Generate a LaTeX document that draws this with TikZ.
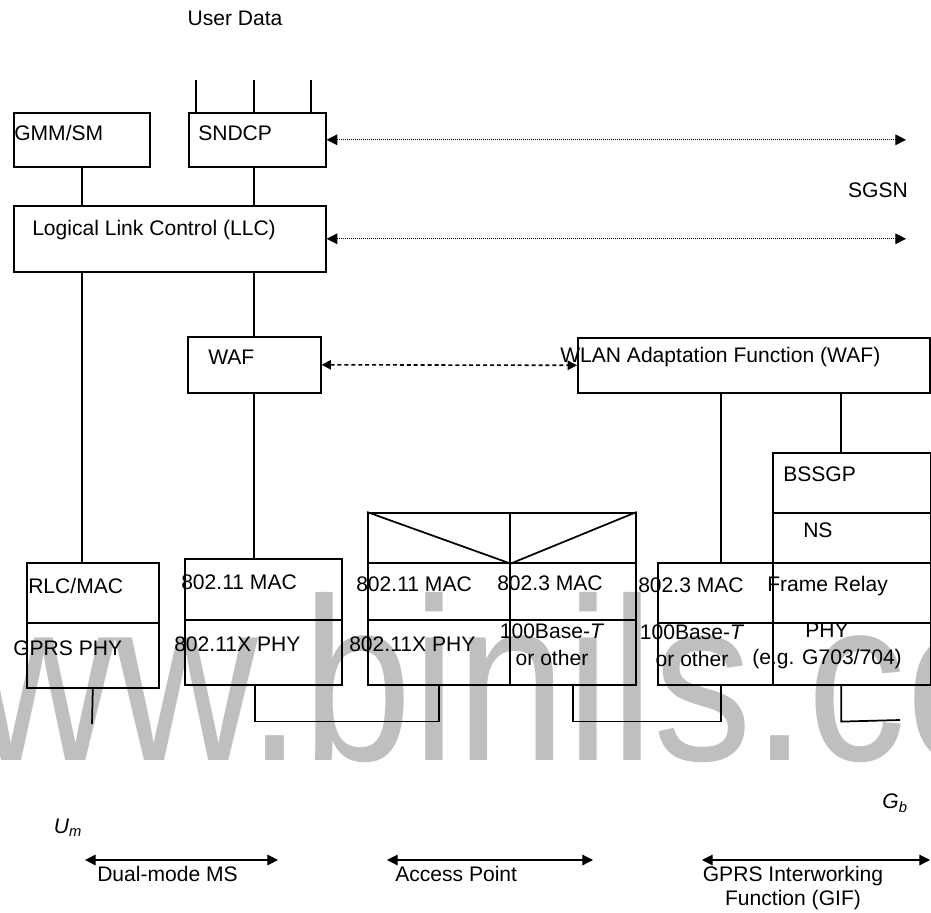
\documentclass[tikz,border=0pt]{standalone}
\usepackage{fontspec}
\setmainfont{Liberation Sans}
\usetikzlibrary{arrows.meta}

\begin{document}
\begin{tikzpicture}[x=0.75pt, y=-0.75pt,
    font=\fontsize{15.8}{19}\selectfont,
    layer/.style 2 args={draw, line width=1.2pt, inner sep=0pt, anchor=north west,
      minimum width=#1*0.75pt, minimum height=#2*0.75pt},
    txt/.style={inner sep=0pt, anchor=west},
    stack/.style={inner sep=0pt, align=center, font=\fontsize{15.8}{20}\selectfont},
    link/.style={line width=1.3pt},
    peer/.style={line width=0.75pt, dash pattern=on 0.8pt off 0.7pt, {Triangle[length=8pt, width=8pt]}-{Triangle[length=8pt, width=8pt]}},
    wafpeer/.style={line width=1.2pt, dash pattern=on 3pt off 2.2pt, {Triangle[length=7pt, width=7pt]}-{Triangle[length=7pt, width=7pt]}},
    span/.style={line width=0.9pt, {Triangle[length=8pt, width=8pt]}-{Triangle[length=8pt, width=8pt]}}]

  \useasboundingbox (0,0) rectangle (931,913);

  % watermark behind everything
  \begin{scope}
    \clip (0,0) rectangle (931,913);
    \node[inner sep=0pt, anchor=base west, text=black!25,
          font=\fontsize{174}{174}\selectfont] (mark) at (-170,760)
         {\scalebox{0.852}[1]{www.binils.co}};
  \end{scope}

  % dual-mode MS
  \node[layer={136}{54}] (gmm) at (13,112) {};
  \node[layer={137}{54}] (sndcp) at (188,112) {};
  \node[layer={312}{66}] (llc) at (13,205) {};
  \node[layer={133}{56}] (waf) at (187,336) {};
  \node[layer={132}{60}] (rlc) at (26,562) {};
  \node[layer={132}{65}] (gprsphy) at (26,622) {};
  \node[layer={157}{61}] (msmac) at (184,558) {};
  \node[layer={157}{65}] (msphy) at (184,619) {};

  % access point
  \node[layer={142}{50}] (relayl) at (367,512) {};
  \node[layer={126}{50}] (relayr) at (509,512) {};
  \node[layer={142}{57}] (apmac) at (367,562) {};
  \node[layer={142}{65}] (apphy) at (367,619) {};
  \node[layer={126}{57}] (apethmac) at (509,562) {};
  \node[layer={126}{65}] (apethphy) at (509,619) {};

  % GIF
  \node[layer={352}{55}] (wlan) at (577,337) {};
  \node[layer={158}{60}] (bssgp) at (772,452) {};
  \node[layer={158}{50}] (ns) at (772,512) {};
  \node[layer={115}{60}] (gifethmac) at (657,562) {};
  \node[layer={115}{62}] (gifethphy) at (657,622) {};
  \node[layer={158}{60}] (fr) at (772,562) {};
  \node[layer={158}{62}] (gifphy) at (772,622) {};

  % texts
  \node[inner sep=0pt] (userdata) at (235,18) {User Data};
  \node[txt] (tgmm) at (14,133) {GMM/SM};
  \node[txt] (tsndcp) at (198,133) {SNDCP};
  \node[inner sep=0pt] (sgsn) at (878,190) {SGSN};
  \node[txt] (tllc) at (32,230) {Logical Link Control (LLC)};
  \node[txt] (twaf) at (208,357) {WAF};
  \node[txt] (twlan) at (560,357) {WLAN Adaptation Function (WAF)};
  \node[txt] (tbssgp) at (783,474) {BSSGP};
  \node[txt] (tns) at (803,530) {NS};
  \node[txt] (trlc) at (28,586) {RLC/MAC};
  \node[txt] (tgprsphy) at (13,648) {GPRS PHY};
  \node[txt] (tmsmac) at (181,582) {802.11 MAC};
  \node[txt] (tmsphy) at (174,644) {802.11X PHY};
  \node[txt] (tapmac) at (356,584) {802.11 MAC};
  \node[txt] (tapphy) at (349,644) {802.11X PHY};
  \node[txt] (tapethmac) at (497,583) {802.3 MAC};
  \node[stack] (tapethphy) at (552,645) {100Base-\textit{T}\\or other};
  \node[txt] (tgifethmac) at (638,585) {802.3 MAC};
  \node[stack] (tgifethphy) at (692,646) {100Base-\textit{T}\\or other};
  \node[txt] (tfr) at (767,586) {Frame Relay};
  \node[stack] (tgifphy) at (827,646) {PHY\\(e.g. G703/704)};
  \node[inner sep=0pt] (gb) at (895,803) {\textit{G\textsubscript{b}}};
  \node[inner sep=0pt] (um) at (68,828) {\textit{U\textsubscript{m}}};
  \node[txt] (tms) at (97,874) {Dual-mode MS};
  \node[txt] (tap) at (395,874) {Access Point};
  \node[stack, font=\fontsize{15.8}{17.5}\selectfont] (tgif) at (793,888) {GPRS Interworking\\Function (GIF)};

  % user data
  \foreach \x [count=\i] in {196,254,311} {
    \coordinate (ud\i) at (\x,80);
    \draw[link] (ud\i) -- (ud\i |- sndcp.north);
  }

  % stack links
  \draw[link] (gmm.south) -- (gmm.south |- llc.north);
  \draw[link] (sndcp.south -| waf.north) -- (waf.north |- llc.north);
  \draw[link] (llc.south -| gmm.south) -- (rlc.north -| gmm.south);
  \draw[link] (llc.south -| waf.north) -- (waf.north);
  \draw[link] (waf.south) -- (waf.south |- msmac.north);
  \draw[link] ([xshift=4pt]gifethmac.north) -- ([xshift=4pt]gifethmac.north |- wlan.south);
  \draw[link] ([xshift=-8pt]bssgp.north) -- ([xshift=-8pt]bssgp.north |- wlan.south);
  \draw[link] (relayl.north west) -- (relayl.south east) -- (relayr.north east);

  % physical links
  \coordinate (umstub) at (92,724);
  \coordinate (gbstub) at (900,720);
  \draw[link] (gprsphy.south) -- (umstub);
  \draw[link] ([xshift=-6.4pt]msphy.south) -- ++(0,36) -| (apphy.south);
  \draw[link] (apethphy.south) -- ++(0,36) -| ([xshift=4pt]gifethphy.south);
  \draw[link] ([xshift=-8pt]gifphy.south) -- ++(0,36) -- (gbstub);

  % peer arrows
  \coordinate (sgsnedge) at (906,0);
  \draw[peer] (sndcp.east) -- (sndcp.east -| sgsnedge);
  \draw[peer] (llc.east) -- (llc.east -| sgsnedge);
  \draw[wafpeer] (waf.east) -- (wlan.west);

  % spans
  \coordinate (ms1) at (85,860);  \coordinate (ms2) at (278,860);
  \coordinate (ap1) at (387,860); \coordinate (ap2) at (593,860);
  \coordinate (gif1) at (702,860); \coordinate (gif2) at (930,860);
  \draw[span] (ms1) -- (ms2);
  \draw[span] (ap1) -- (ap2);
  \draw[span] (gif1) -- (gif2);
\end{tikzpicture}
\end{document}
